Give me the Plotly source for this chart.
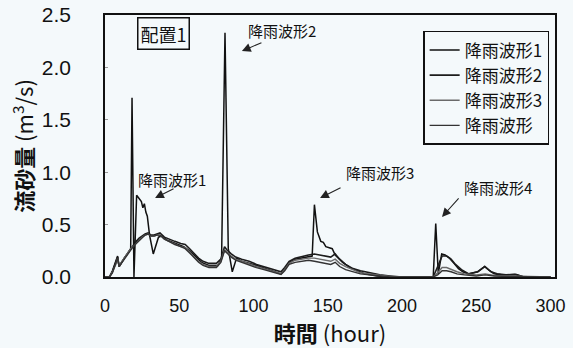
import plotly.graph_objects as go

# Sediment discharge time series (hour, m3/s)
t_s = [0, 3, 5, 7.3, 8.5, 9.5, 11, 13, 15, 17.3, 18.2, 19.5, 21.3, 23, 24.5, 25.5, 26.5, 27.5,
       28.5, 30, 32.5, 36, 38, 42, 47, 53, 57, 61, 65, 70, 76, 78.5, 80.8, 83, 85.7, 88.6, 92,
       100, 110, 118.5, 121, 124, 128, 133, 139.5, 141, 143, 145.3, 147, 148.7, 151, 153, 155,
       160, 165, 170, 175, 183, 191, 221, 222.7, 224.4, 226.7, 229, 232, 235, 238, 241, 244.6,
       251, 255.7, 259, 262, 268, 271, 274, 277, 282, 300]
q_s = [0, 0, 0.06, 0.14, 0.2, 0.1, 0.14, 0.18, 0.22, 0.27, 1.71, 0.0, 0.78, 0.75, 0.72, 0.66, 0.7, 0.62,
       0.58, 0.40, 0.22, 0.38, 0.39, 0.35, 0.32, 0.29, 0.25, 0.19, 0.14, 0.11, 0.11, 0.18, 2.33, 0.27, 0.05, 0.18, 0.15,
       0.12, 0.07, 0.03, 0.07, 0.14, 0.17, 0.18, 0.2, 0.69, 0.43, 0.34, 0.33, 0.29, 0.28, 0.27, 0.21,
       0.14, 0.09, 0.06, 0.03, 0.01, 0, 0, 0.51, 0.03, 0.22, 0.21, 0.18, 0.13, 0.08, 0.05, 0.03,
       0.05, 0.10, 0.06, 0.03, 0.02, 0.02, 0.025, 0.025, 0, 0]

t_b = [0, 3, 5, 7.3, 8.5, 9.5, 11, 13, 15, 17.3, 19, 21, 23, 25, 27, 29, 31, 33, 35, 37, 40, 43, 47,
       51, 54, 57, 60, 63, 66, 70, 75, 78, 80.5, 82, 85, 88, 92, 97, 102, 107, 112, 116, 118.5, 121,
       124, 128, 133, 137, 141, 145, 149, 152, 155, 158, 162, 167, 172, 178, 185, 192, 200, 221,
       224, 227, 230, 233, 236, 240, 245, 251, 255.7, 260, 264, 270, 276, 282, 300]
q_b = [0, 0, 0.05, 0.13, 0.19, 0.1, 0.14, 0.18, 0.22, 0.27, 0.3, 0.34, 0.37, 0.39, 0.41, 0.42, 0.40, 0.40, 0.41, 0.42, 0.38, 0.36, 0.34,
       0.32, 0.31, 0.27, 0.22, 0.18, 0.15, 0.13, 0.13, 0.17, 0.29, 0.26, 0.22, 0.19, 0.17, 0.15, 0.12, 0.1, 0.08, 0.06, 0.05, 0.09,
       0.15, 0.18, 0.2, 0.21, 0.22, 0.21, 0.2, 0.19, 0.22, 0.17, 0.12, 0.08, 0.06, 0.04, 0.02, 0.01, 0, 0,
       0.1, 0.2, 0.2, 0.17, 0.12, 0.07, 0.03, 0.05, 0.1, 0.05, 0.03, 0.02, 0.025, 0, 0]

t_c = [0, 3, 5, 7.3, 8.5, 9.5, 11, 13, 15, 17.3, 19, 21, 23, 25, 27, 29, 31, 33, 35, 37, 40, 43, 47,
       51, 54, 57, 60, 63, 66, 70, 75, 78, 80.5, 82, 85, 88, 92, 97, 102, 107, 112, 116, 118.5, 121,
       124, 128, 133, 137, 141, 145, 149, 152, 155, 158, 162, 167, 172, 178, 185, 192, 200, 221,
       224, 227, 230, 233, 237, 242, 250, 256, 262, 270, 280, 300]
q_c = [0, 0, 0.05, 0.12, 0.18, 0.1, 0.14, 0.18, 0.22, 0.27, 0.29, 0.32, 0.36, 0.38, 0.40, 0.41, 0.39, 0.39, 0.40, 0.40, 0.36, 0.34, 0.31,
       0.29, 0.28, 0.24, 0.19, 0.15, 0.12, 0.1, 0.1, 0.15, 0.26, 0.24, 0.2, 0.17, 0.15, 0.12, 0.1, 0.08, 0.06, 0.04, 0.03, 0.07,
       0.13, 0.16, 0.17, 0.18, 0.18, 0.17, 0.16, 0.15, 0.17, 0.13, 0.1, 0.07, 0.04, 0.03, 0.015, 0.005, 0, 0,
       0.04, 0.09, 0.09, 0.07, 0.05, 0.03, 0.02, 0.03, 0.015, 0.01, 0.005, 0]

t_d = [0, 3, 5, 7.3, 8.5, 9.5, 11, 13, 15, 17.3, 19, 21, 23, 25, 27, 29, 31, 33, 35, 37, 40, 43, 47,
       51, 54, 57, 60, 63, 66, 70, 75, 78, 80.5, 82, 85, 88, 92, 97, 102, 107, 112, 116, 118.5, 121,
       124, 128, 133, 137, 141, 145, 149, 152, 155, 158, 162, 167, 172, 178, 185, 192, 221,
       224, 227, 230, 233, 237, 242, 250, 256, 262, 270, 300]
q_d = [0, 0, 0.04, 0.12, 0.18, 0.1, 0.13, 0.17, 0.21, 0.26, 0.29, 0.32, 0.35, 0.38, 0.40, 0.41, 0.39, 0.39, 0.40, 0.40, 0.36, 0.34, 0.31,
       0.29, 0.27, 0.23, 0.18, 0.14, 0.11, 0.09, 0.09, 0.14, 0.25, 0.23, 0.19, 0.16, 0.14, 0.11, 0.09, 0.07, 0.05, 0.035, 0.025, 0.06,
       0.12, 0.14, 0.15, 0.16, 0.15, 0.14, 0.13, 0.12, 0.14, 0.1, 0.07, 0.05, 0.03, 0.02, 0.01, 0, 0,
       0.02, 0.06, 0.06, 0.05, 0.03, 0.02, 0.01, 0.02, 0.01, 0.005, 0]

names = ["降雨波形1", "降雨波形2", "降雨波形3", "降雨波形"]

# Event labels: (text, text x, text y, arrow tip x, arrow tip y, arrow dx, arrow dy)
events = [
    ("降雨波形1", 45.1, 0.93, 33.7, 0.754, 20, -10),
    ("降雨波形2", 119.2, 2.35, 92.2, 2.156, 21, -9),
    ("降雨波形3", 185.2, 1.0, 144.8, 0.754, 22, -11),
    ("降雨波形4", 264.6, 0.85, 226.9, 0.573, 18, -20),
]

BG = "#f4f9fb"
FONT = "Liberation Sans, Noto Sans CJK JP, sans-serif"
CJK = "Noto Sans CJK JP, Liberation Sans, sans-serif"

fig = go.Figure()
series = [(t_s, q_s, "#111111", 1.5), (t_b, q_b, "#1c1c1c", 1.6),
          (t_c, q_c, "#6a6a6a", 1.4), (t_d, q_d, "#333333", 1.4)]
for (t, q, c, w), n in zip(series, names):
    fig.add_trace(go.Scatter(x=t, y=q, mode="lines", name=n,
                             line=dict(color=c, width=w)))

for txt, tx, ty, px, py, dx, dy in events:
    fig.add_annotation(x=tx, y=ty, text=txt, showarrow=False,
                       font=dict(family=CJK, size=15, color="#111"))
    fig.add_annotation(x=px, y=py, text="", showarrow=True, ax=dx, ay=dy,
                       arrowhead=2, arrowsize=1.6, arrowwidth=1.1, arrowcolor="#222")

fig.add_annotation(x=39.7, y=2.32, text="配置1", showarrow=False,
                   font=dict(family=CJK, size=18, color="#111"),
                   bordercolor="#111", borderwidth=1.5, borderpad=2, bgcolor=BG)

fig.update_layout(
    width=573, height=348,
    margin=dict(l=105, r=18, t=15, b=71, autoexpand=False),
    paper_bgcolor=BG, plot_bgcolor=BG,
    font=dict(family=FONT, color="#111"),
    showlegend=True,
    legend=dict(x=0.707, y=0.939, xanchor="left", yanchor="top",
                bgcolor=BG, bordercolor="#111", borderwidth=1.5,
                font=dict(family=CJK, size=17, color="#111"),
                itemwidth=30, tracegroupgap=0),
    xaxis=dict(range=[0, 303], tickvals=[0, 50, 100, 150, 200, 250, 300],
               showgrid=False, zeroline=False, showline=True, linecolor="#111",
               linewidth=1.5, mirror=True, ticks="", ticklabelstandoff=12,
               automargin=False,
               tickfont=dict(size=18, family=FONT),
               title=dict(text="<b>時間</b> (hour)", standoff=0,
                          font=dict(size=22, family=CJK))),
    yaxis=dict(range=[0, 2.5], tickvals=[0, 0.5, 1, 1.5, 2, 2.5],
               ticktext=["0.0", "0.5", "1.0", "1.5", "2.0", "2.5"],
               showgrid=False, zeroline=False, showline=True, linecolor="#111",
               linewidth=1.5, mirror=True, ticks="inside", ticklen=3,
               tickcolor="#999", ticklabelstandoff=28, automargin=False,
               tickfont=dict(size=21, family=FONT),
               title=dict(text="<b>流砂量</b> (m<sup>3</sup>/s)", standoff=2,
                          font=dict(size=22, family=CJK))),
)

fig.write_html("out.html")
